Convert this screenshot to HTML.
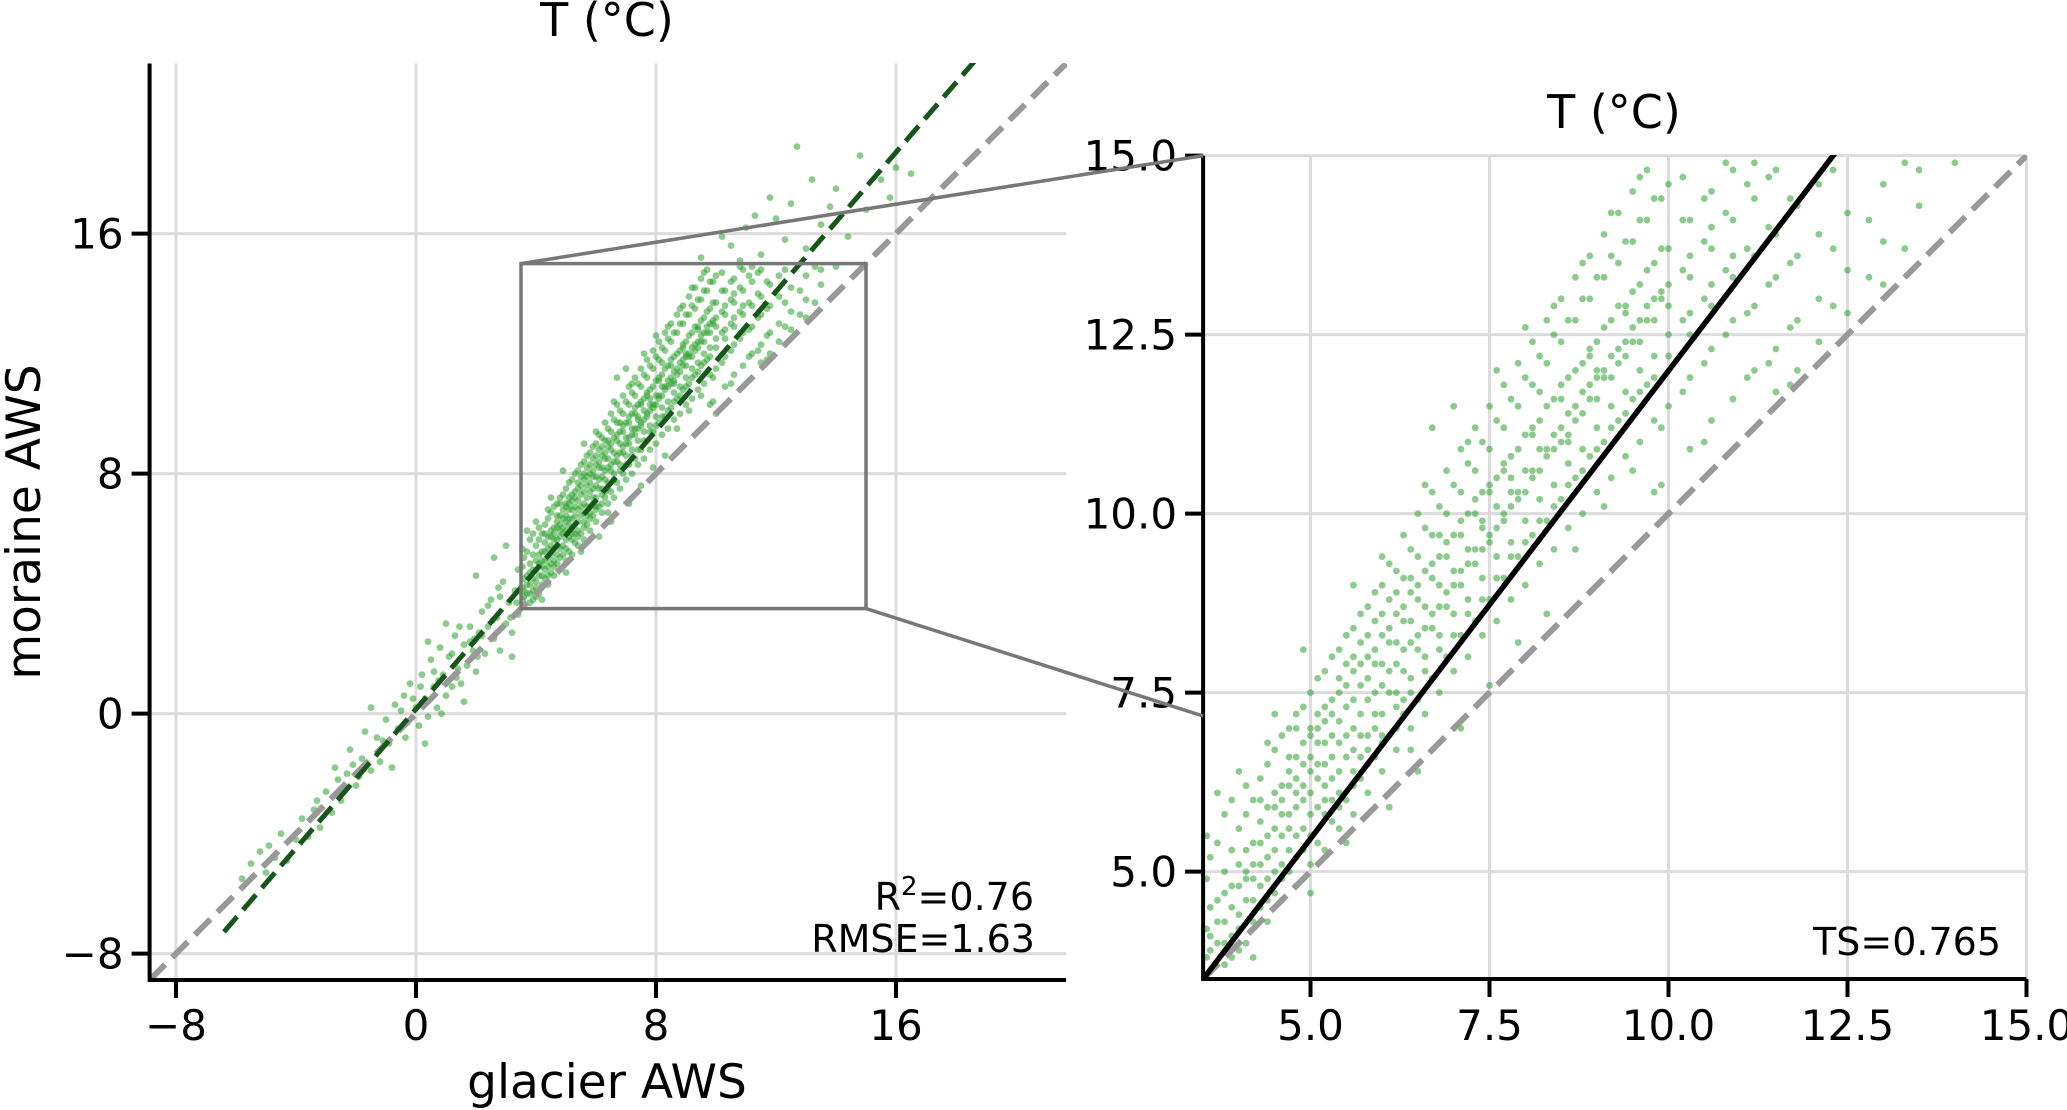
<!DOCTYPE html>
<html><head><meta charset="utf-8"><style>
html,body{margin:0;padding:0;background:#fff;overflow:hidden;width:2067px;height:1110px}
svg{display:block;font-family:"DejaVu Sans","Liberation Sans",sans-serif}
</style></head><body>
<svg id="fig" width="2067" height="1110" viewBox="0 0 2067 1110">
<defs>
<clipPath id="clipL"><rect x="149" y="63" width="918" height="917"/></clipPath>
<clipPath id="clipR"><rect x="1202" y="155" width="825" height="825"/></clipPath>
</defs>
<g id="L"></g>
<g id="R"></g>
<g id="C"></g>
</svg>
<script>
// ---- data ----
const leftTicks = [-8, 0, 8, 16];
const leftTickLabels = ["\u22128", "0", "8", "16"];
const rightTicks = [5, 7.5, 10, 12.5, 15];
const rightTickLabels = ["5.0", "7.5", "10.0", "12.5", "15.0"];
const leftDomain = [-8.88, 21.67];
const rightDomain = [3.5, 15];
const fitLeft = [1.16, 0.15];      // slope, intercept (OLS)
const fitLeftStart = -6.4;
const fitRight = [1.307, -1.075];  // slope, intercept (Theil-Sen)
const lowPoints = [[-5.8,-5.5],[-5.5,-5.0],[-5.2,-4.6],[-5.0,-5.3],[-4.7,-4.8],[-4.5,-4.0],[-4.3,-4.9],[-4.0,-4.2],[-3.8,-3.5],[-3.6,-4.1],[-3.4,-3.2],[-3.2,-3.8],[-3.0,-2.6],[-2.8,-3.3],[-2.7,-1.8],[-2.5,-2.9],[-2.3,-2.0],[-2.2,-1.2],[-2.0,-2.4],[-1.8,-1.5],[-1.7,-0.6],[-1.5,-1.9],[-1.3,-0.8],[-1.2,-1.6],[-1.0,-0.2],[-0.9,-1.0],[-0.7,0.3],[-0.6,-0.5],[-0.4,0.6],[-0.3,-0.3],[-0.2,1.0],[0.0,0.2],[0.1,-0.4],[0.2,1.3],[0.3,0.5],[0.4,-0.1],[0.5,1.8],[0.6,0.9],[0.7,0.2],[0.8,2.2],[0.9,1.3],[1.0,0.6],[1.1,1.9],[1.2,0.9],[1.3,2.6],[1.4,1.5],[1.5,1.0],[1.6,2.3],[1.7,1.6],[1.8,2.9],[1.9,2.1],[2.0,1.4],[2.1,2.7],[2.2,3.4],[2.3,2.0],[2.4,2.9],[2.5,3.8],[2.6,2.5],[2.7,3.2],[2.8,2.1],[2.9,4.4],[3.0,3.0],[3.1,3.7],[3.2,2.7],[3.3,4.1],[3.4,3.3],[0.4,2.4],[1.0,3.0],[-1.5,0.2],[2.0,4.6],[2.6,5.2],[3.0,5.6],[1.6,0.4],[-0.8,-1.8],[0.3,-1.0],[3.2,1.9],[1.2,2.0],[2.4,3.6],[2.8,3.9],[1.8,2.4],[0.6,1.4],[-0.1,0.5],[3.4,4.8],[2.2,2.6],[-4.9,-4.4],[-3.3,-2.9],[-2.1,-1.7],[-1.1,-0.9],[-0.5,0.1],[0.15,0.9],[0.75,1.1],[1.35,1.2],[1.95,2.5],[2.55,3.1],[3.15,3.2],[2.05,1.9],[1.45,2.9],[0.85,0.0],[-0.35,-0.8],[2.75,4.2],[3.35,3.7],[-1.9,-2.1],[-2.6,-2.2]];
const scatterBins = [[3.6,[3.9,4.5,3.6,5.2,4.1]],[3.8,[4.3,3.7,5.0,4.7,5.8,4.0]],[4.0,[4.4,5.1,3.9,5.6,4.8,6.4,4.2]],[4.2,[4.9,4.3,5.4,6.0,4.6,5.1,3.8]],[4.4,[5.2,4.6,5.9,6.5,4.9,5.5,4.3,6.8]],[4.6,[5.5,4.9,6.2,5.8,6.9,5.1,4.6,6.0]],[4.8,[5.9,5.2,6.6,6.1,7.2,5.5,4.8,6.3,7.0]],[5.0,[6.1,5.5,6.9,6.4,7.5,5.8,5.1,6.6,7.0,4.7]],[5.2,[6.5,5.8,7.1,6.8,7.8,6.2,5.3,7.3,6.0]],[5.4,[6.8,6.1,7.5,7.1,8.1,6.4,5.6,7.7,5.9]],[5.6,[7.0,6.4,7.8,7.4,8.4,6.7,5.8,8.0,6.2,9.0]],[5.8,[7.4,6.7,8.0,7.7,8.7,6.9,6.1,8.3,6.5]],[6.0,[7.6,6.9,8.3,7.9,9.0,7.2,6.4,8.6,6.8,9.4]],[6.2,[7.9,7.3,8.6,8.2,9.2,7.5,6.7,8.9,7.0]],[6.4,[8.2,7.5,8.9,8.5,9.5,7.7,7.0,9.1,6.7]],[6.6,[8.4,7.8,9.2,8.7,9.8,8.0,7.2,10.4]],[6.8,[8.7,8.1,9.4,9.0,10.1,8.3,7.5,9.7]],[7.0,[9.0,8.3,9.7,9.2,10.4,8.6,7.8,11.5]],[7.2,[9.3,8.6,10.0,9.5,10.7,8.8,8.0,11.0]],[7.4,[9.5,8.8,10.3,9.8,11.0,9.1,8.3,9.9]],[7.6,[9.8,9.1,10.5,10.1,11.3,9.4,8.5,12.0]],[7.8,[10.1,9.4,10.8,10.3,11.6,9.6,8.8,10.5]],[8.0,[10.3,9.6,11.1,10.6,11.9,9.9,9.0,12.6]],[8.2,[10.6,9.9,11.3,10.9,12.2,10.2,9.3,11.7]],[8.4,[10.9,10.1,11.6,11.1,12.5,10.4,9.5,12.9]],[8.6,[11.1,10.4,11.9,11.4,12.7,10.7,9.8,11.0]],[8.8,[11.4,10.6,12.1,11.7,13.0,10.9,10.0,13.5]],[9.0,[11.6,10.9,12.4,11.9,13.3,11.2,10.3,12.0]],[9.2,[11.9,11.2,12.7,12.2,13.6,11.5,10.5,14.2]],[9.4,[12.2,11.4,12.9,12.4,13.8,11.7,10.8,12.8]],[9.6,[12.4,11.7,13.2,12.7,14.1,12.0,11.0,14.7]],[9.8,[12.7,11.9,13.5,13.0,14.4,12.2,11.3,10.3]],[10.0,[12.9,12.2,13.7,13.2,14.6,12.5,11.5,10.0]],[10.3,[13.3,12.5,14.1,13.6,12.8,11.9,10.9]],[10.6,[13.7,12.9,14.5,14.0,13.2,12.3,11.3]],[10.9,[14.1,13.3,14.8,13.6,12.7,11.6]],[11.2,[14.4,13.6,12.9,12.0,14.9]],[11.5,[14.8,13.9,13.3,12.3,11.7]],[11.8,[14.3,13.6,12.7,12.0]],[12.1,[14.6,13.9,13.0,12.4]],[12.5,[14.2,13.4,12.8]],[13.0,[14.6,13.8,13.2]],[13.5,[14.3,14.8]],[14.0,[14.9]]];
const scatterBins2 = [[3.55,[4.2,3.8,4.9,5.5]],[3.7,[4.0,4.6,5.4,4.3,6.1]],[3.9,[4.1,4.8,5.3,4.5,6.0,3.8]],[4.1,[4.6,5.3,4.0,5.8,6.2,4.9,5.0]],[4.3,[4.5,5.1,5.7,6.3,4.8,5.4,6.0]],[4.5,[5.0,5.6,6.1,6.7,4.7,5.3,7.2,5.9]],[4.7,[5.3,5.8,6.4,7.0,5.0,6.6,5.6,6.2]],[4.9,[5.6,6.2,6.8,7.3,5.3,6.0,6.5,8.1]],[5.1,[5.9,6.5,7.2,6.3,7.7,5.4,6.8,7.0]],[5.3,[6.3,6.9,7.4,6.6,8.0,5.7,7.2,6.0]],[5.5,[6.6,7.3,7.9,6.9,8.3,6.0,7.6,5.4]],[5.7,[6.9,7.6,8.2,7.2,8.6,6.3,7.9,6.6]],[5.9,[7.2,7.9,8.5,7.5,8.9,6.6,8.1,7.0]],[6.1,[7.5,8.2,8.8,7.8,9.3,6.9,8.4,5.9]],[6.3,[7.8,8.5,9.1,8.1,9.7,7.2,8.7,7.4]],[6.5,[8.1,8.8,9.4,8.3,10.0,7.4,9.0,6.4]],[6.7,[8.4,9.1,9.7,8.6,10.3,7.7,9.3,11.2]],[6.9,[8.7,9.4,10.0,8.9,10.6,8.0,9.6]],[7.1,[9.0,9.7,10.3,9.2,10.9,8.3,9.9,7.0]],[7.3,[9.3,10.0,10.6,9.5,11.2,8.5,10.2]],[7.5,[9.6,10.3,10.9,9.7,11.5,8.8,10.4,7.6]],[7.7,[9.9,10.6,11.2,10.0,11.8,9.1,10.7]],[7.9,[10.2,10.9,11.5,10.3,12.1,9.4,8.2]],[8.1,[10.5,11.2,11.8,10.6,12.4,9.7,11.1]],[8.3,[10.8,11.5,12.1,10.9,12.7,9.9,8.6]],[8.5,[11.0,11.8,12.4,11.2,13.0,10.2,11.6]],[8.7,[11.3,12.0,12.7,11.5,13.3,10.5,9.5]],[8.9,[11.6,12.3,13.0,11.8,13.6,10.8,12.2]],[9.1,[11.9,12.6,13.3,12.0,13.9,11.0,10.1]],[9.3,[12.1,12.9,13.5,12.3,14.2,11.3]],[9.5,[12.4,13.1,13.8,12.6,14.5,11.6,10.6]],[9.7,[12.7,13.4,14.1,12.9,14.8,11.8]],[9.9,[13.0,13.7,14.4,13.1,11.2,10.4]],[10.2,[13.4,14.1,12.7,14.7,11.7]],[10.5,[13.8,14.4,13.0,12.1,11.0]],[10.8,[14.2,13.4,12.5,14.9]],[11.1,[14.6,13.7,12.8,11.9]],[11.4,[14.0,13.2,12.1,14.7]],[11.7,[14.4,13.5,12.6,11.8]],[12.3,[14.8,13.7,12.9]],[12.8,[14.1,13.3]],[13.3,[14.9,13.7]]];
const highPoints = [[10.5,15.6],[11.0,16.2],[12.0,16.5],[12.5,17.0],[13.0,15.5],[14.0,17.5],[15.0,16.8],[15.5,17.8],[16.0,18.2],[11.5,15.3],[13.5,16.3],[9.5,15.2],[16.5,18.0],[12.7,18.9],[14.8,18.6],[13.2,17.8],[11.8,17.2],[10.2,15.9],[11.3,16.6],[12.3,15.8],[13.8,16.9],[14.4,15.9],[15.8,17.2],[10.8,15.1]];

const NS = "http://www.w3.org/2000/svg";
function mk(parent, tag, attrs, text){
  const e = document.createElementNS(NS, tag);
  for (const k in attrs) e.setAttribute(k, attrs[k]);
  if (text !== undefined) e.textContent = text;
  parent.appendChild(e);
  return e;
}
const lx = v => 416 + 30 * v, ly = v => 713.6 - 30 * v;
const rx = v => 1310.5 + 71.6 * (v - 5), ry = v => 871.6 - 71.6 * (v - 5);

const glacierT = [], moraineT = [];
lowPoints.forEach(p => { glacierT.push(p[0]); moraineT.push(p[1]); });
scatterBins.forEach(b => b[1].forEach(y => { glacierT.push(b[0]); moraineT.push(y); }));
scatterBins2.forEach(b => b[1].forEach(y => { glacierT.push(b[0]); moraineT.push(y); }));
highPoints.forEach(p => { glacierT.push(p[0]); moraineT.push(p[1]); });

function panel(g, X, Y, dom, ticks, labels, clip, fit, fitStart, fitColor, fitDash, fitW, r, pre){
  const x0 = X(dom[0]), x1 = X(dom[1]), y0 = Y(dom[0]), y1 = Y(dom[1]);
  const grid = mk(g, "g", {});
  
  
  ticks.forEach(t => {
    const a = mk(grid, "line", {x1: X(t), x2: X(t), y1: y0, y2: y1, stroke: "#dcdcdc", "stroke-width": 3});
    
    
    const b = mk(grid, "line", {x1: x0, x2: x1, y1: Y(t), y2: Y(t), stroke: "#dcdcdc", "stroke-width": 3});
    
    
  });
  const sc = mk(g, "g", {"clip-path": "url(#" + clip + ")", fill: "#2ca02c", "fill-opacity": 0.55});
  
  
  for (let i = 0; i < glacierT.length; i++) {
    const c = mk(sc, "circle", {cx: X(glacierT[i]), cy: Y(moraineT[i]), r: r});
    
    
  }
  const lines = mk(g, "g", {"clip-path": "url(#" + clip + ")"});
  const one = mk(lines, "line", {x1: X(dom[0]), y1: Y(dom[0]), x2: X(dom[1]), y2: Y(dom[1]), stroke: "#999", "stroke-width": 6, "stroke-dasharray": "22 10"});
  
  
  const xs = fitStart, xe = dom[1];
  const f = mk(lines, "line", {x1: X(xs), y1: Y(fit[0]*xs+fit[1]), x2: X(xe), y2: Y(fit[0]*xe+fit[1]), stroke: fitColor, "stroke-width": fitW});
  if (fitDash) f.setAttribute("stroke-dasharray", fitDash);
  
  
  const sp = mk(g, "path", {d: `M${x0},${y1} V${y0} H${x1}`, fill: "none", stroke: "#000", "stroke-width": 4});
  
  
  ticks.forEach((t, i) => {
    const a = mk(g, "line", {x1: X(t), x2: X(t), y1: y0, y2: y0 + 18, stroke: "#000", "stroke-width": 4});
    
    
    const b = mk(g, "line", {x1: x0 - 18, x2: x0, y1: Y(t), y2: Y(t), stroke: "#000", "stroke-width": 4});
    
    
    const tx = mk(g, "text", {x: X(t), y: 1040, "text-anchor": "middle", "font-size": 42}, labels[i]);
    
    
    const ty = mk(g, "text", {x: x0 - 26, y: Y(t) + 15, "text-anchor": "end", "font-size": 42}, labels[i]);
    
    
  });
}

const L = document.getElementById("L"), R = document.getElementById("R"), C = document.getElementById("C");
panel(L, lx, ly, leftDomain, leftTicks, leftTickLabels, "clipL", fitLeft, fitLeftStart, "#16561a", "20 9", 5, 3.4, "left");
panel(R, rx, ry, rightDomain, rightTicks, rightTickLabels, "clipR", fitRight, rightDomain[0], "#000", null, 5.5, 3.4, "right");

const rect = mk(L, "rect", {x: lx(3.5), y: ly(15), width: lx(15) - lx(3.5), height: ly(3.5) - ly(15), fill: "none", stroke: "#777", "stroke-width": 3.5});


const c1 = mk(C, "line", {x1: lx(3.5), y1: ly(15), x2: rx(3.5), y2: ry(15), stroke: "#777", "stroke-width": 3.5});


const c2 = mk(C, "line", {x1: lx(15), y1: ly(3.5), x2: rx(3.5), y2: 716, stroke: "#777", "stroke-width": 3.5});



let t;
t = mk(L, "text", {x: 607, y: 36, "text-anchor": "middle", "font-size": 46}, "T (°C)");


t = mk(R, "text", {x: 1614, y: 128, "text-anchor": "middle", "font-size": 46}, "T (°C)");


t = mk(L, "text", {x: 607, y: 1098, "text-anchor": "middle", "font-size": 47}, "glacier AWS");


t = mk(L, "text", {x: 40, y: 522, "text-anchor": "middle", "font-size": 47, transform: "rotate(-90 40 522)"}, "moraine AWS");


t = mk(L, "text", {x: 1034, y: 910, "text-anchor": "end", "font-size": 38});


t.appendChild(document.createTextNode("R"));
mk(t, "tspan", {dy: -15, "font-size": 26}, "2");
mk(t, "tspan", {dy: 15}, "=0.76");
t = mk(L, "text", {x: 1035, y: 952, "text-anchor": "end", "font-size": 38}, "RMSE=1.63");


t = mk(R, "text", {x: 2001, y: 955, "text-anchor": "end", "font-size": 38}, "TS=0.765");


</script>
</body></html>
